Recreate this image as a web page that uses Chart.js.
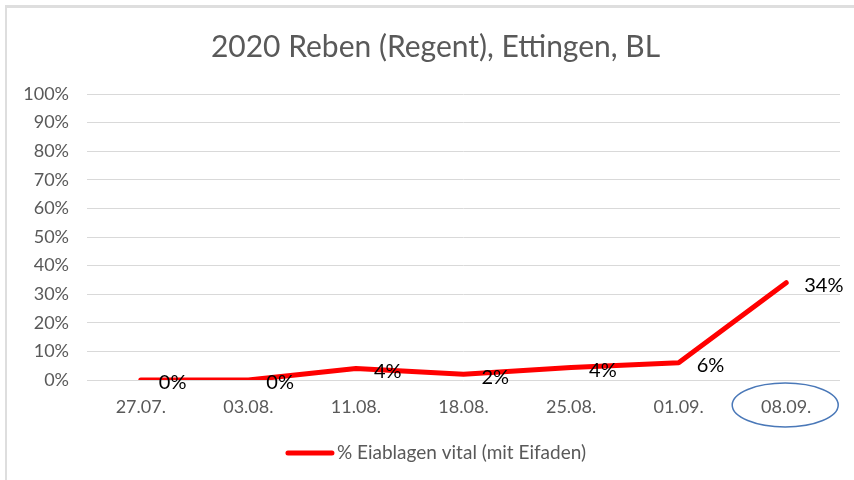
<!DOCTYPE html>
<html>
<head>
<meta charset="utf-8">
<script src="https://cdn.jsdelivr.net/npm/chart.js@4.4.1/dist/chart.umd.min.js"></script>
<style>
  html,body{margin:0;padding:0;background:#fff;}
  #wrap{position:relative;width:854px;height:480px;overflow:hidden;}
  #c{position:absolute;left:0;top:0;}
  #bt{position:absolute;left:5px;top:5px;width:849px;height:3px;background:#dedede;}
  #bl{position:absolute;left:5px;top:5px;width:2px;height:475px;background:#dedede;}
</style>
</head>
<body>
<div id="wrap">
  <canvas id="c" width="854" height="480"></canvas>
  <div id="bt"></div><div id="bl"></div>
</div>
<script>
const categories = ["27.07.", "03.08.", "11.08.", "18.08.", "25.08.", "01.09.", "08.09."];
const seriesValues = [0, 0, 4, 2, 4.4, 6, 34];
const seriesName = "% Eiablagen vital (mit Eifaden)";
const titleText = "2020 Reben (Regent), Ettingen, BL";
const highlightedCategory = "08.09.";

const FONT = "Lato, 'Open Sans', sans-serif";
const GREY = "#595959";
const RED = "#ff0000";

const titlePlugin = {
  id: 'customTitle',
  afterDraw(chart) {
    const ctx = chart.ctx;
    ctx.save();
    ctx.font = "30px " + FONT;
    ctx.fillStyle = GREY;
    ctx.textAlign = 'center';
    ctx.textBaseline = 'middle';
    ctx.fillText(titleText, 435.5, chart.chartArea.top - 47);
    ctx.restore();
  }
};

const labelPlugin = {
  id: 'valueLabels',
  afterDatasetsDraw(chart) {
    const meta = chart.getDatasetMeta(0);
    const ctx = chart.ctx;
    ctx.save();
    ctx.font = "20px " + FONT;
    ctx.fillStyle = "#000";
    ctx.textAlign = "left";
    ctx.textBaseline = "middle";
    meta.data.forEach((pt, i) => {
      const v = chart.data.datasets[0].data[i];
      ctx.fillText(Math.round(v) + "%", pt.x + 18, pt.y + 3);
    });
    ctx.restore();
  }
};

const ellipsePlugin = {
  id: 'ellipse',
  afterDraw(chart) {
    const xs = chart.scales.x;
    const idx = categories.indexOf(highlightedCategory);
    const cx = xs.getPixelForValue(idx) - 1;
    const cy = chart.chartArea.bottom + 25;
    const ctx = chart.ctx;
    ctx.save();
    ctx.strokeStyle = "#4a78b8";
    ctx.lineWidth = 1.5;
    ctx.beginPath();
    ctx.ellipse(cx, cy, 53, 22, 0, 0, Math.PI * 2);
    ctx.stroke();
    ctx.restore();
  }
};

const legendPlugin = {
  id: 'customLegend',
  afterDraw(chart) {
    const ctx = chart.ctx;
    const ds = chart.data.datasets[0];
    ctx.save();
    ctx.font = "19px " + FONT;
    const tw = ctx.measureText(ds.label).width;
    const lineW = 48, gap = 3;
    const total = lineW + gap + tw;
    const x0 = 436 - total / 2;
    const y = chart.chartArea.bottom + 73;
    ctx.strokeStyle = ds.borderColor;
    ctx.lineWidth = ds.borderWidth;
    ctx.lineCap = 'round';
    ctx.beginPath();
    ctx.moveTo(x0 + 2, y);
    ctx.lineTo(x0 + lineW - 2, y);
    ctx.stroke();
    ctx.fillStyle = GREY;
    ctx.textAlign = 'left';
    ctx.textBaseline = 'middle';
    ctx.fillText(ds.label, x0 + lineW + gap, y);
    ctx.restore();
  }
};

new Chart(document.getElementById('c'), {
  type: 'line',
  data: {
    labels: categories,
    datasets: [{
      label: seriesName,
      data: seriesValues,
      borderColor: RED,
      backgroundColor: RED,
      borderWidth: 5,
      borderCapStyle: 'round',
      borderJoinStyle: 'round',
      pointRadius: 0,
      pointHoverRadius: 0,
      tension: 0,
      fill: false
    }]
  },
  options: {
    responsive: false,
    animation: false,
    devicePixelRatio: 1,
    layout: { padding: { top: 94, right: 14, bottom: 56, left: 0 } },
    plugins: {
      title: { display: false },
      legend: { display: false },
      tooltip: { enabled: false }
    },
    scales: {
      x: {
        offset: true,
        grid: { display: false, drawTicks: false },
        border: { display: false },
        ticks: { color: GREY, font: { family: FONT, size: 18 }, padding: 16, maxRotation: 0 },
        afterFit(scale) { scale.height = 44; }
      },
      y: {
        min: 0, max: 100,
        ticks: { stepSize: 10, color: GREY, font: { family: FONT, size: 18 }, padding: 18,
                 callback: v => v + "%" },
        grid: { color: "#d9d9d9", lineWidth: 1, drawTicks: false },
        border: { display: false },
        afterFit(scale) { scale.width = 87; }
      }
    }
  },
  plugins: [titlePlugin, labelPlugin, ellipsePlugin, legendPlugin]
});
</script>
</body>
</html>
